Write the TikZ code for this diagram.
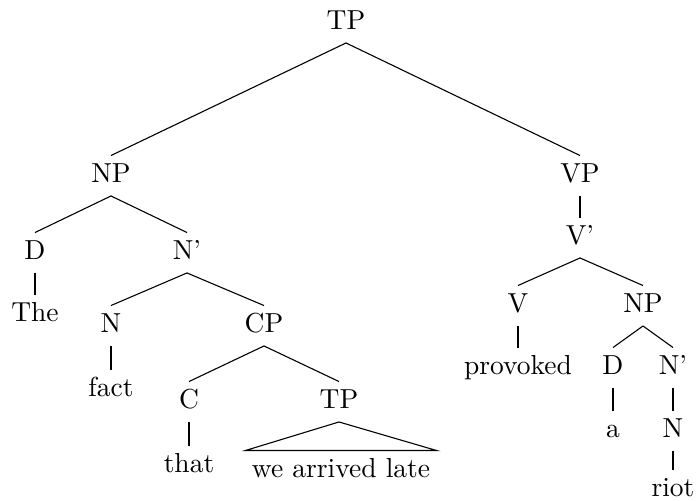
\documentclass[tikz,border=0pt]{standalone}
\usepackage{tikz}

\begin{document}
\begin{tikzpicture}[x=0.3636pt,y=-0.3636pt]
\tikzstyle{every node}=[inner sep=0pt, inner ysep=2.7pt, text height=6.9pt, text depth=2pt, anchor=base]
\useasboundingbox (0,0) rectangle (699,501);
\draw (346,29.5) node (tp) {TP};
\draw (111,182.5) node (np) {NP};
\draw (580,182.5) node (vp) {VP};
\draw (35,259.5) node (d) {D};
\draw (187,259.5) node (nbar) {N'};
\draw (35,321.5) node (the) {The};
\draw (111,332.5) node (n) {N};
\draw (264,332.5) node (cp) {CP};
\draw (111,396.5) node (fact) {fact};
\draw (189,408.5) node (c) {C};
\draw (339,408.5) node (tpb) {TP};
\draw (189,472.5) node (that) {that};
\draw (341,477.5) node (roof) [inner xsep=2.2pt] {we arrived late};
\draw (580,244.5) node (vbar) {V'};
\draw (518,312.5) node (v) {V};
\draw (643,312.5) node (npb) {NP};
\draw (518,375) node (prov) {provoked};
\draw (613,374.5) node (db) {D};
\draw (673,374.5) node (nbarb) {N'};
\draw (613,437.5) node (a) {a};
\draw (673,437.5) node (nb) {N};
\draw (673,496.5) node (riot) {riot};
\draw (tp.south) -- (np.north);
\draw (tp.south) -- (vp.north);
\draw (np.south) -- (d.north);
\draw (np.south) -- (nbar.north);
\draw (d.south) -- (the.north);
\draw (nbar.south) -- (n.north);
\draw (nbar.south) -- (cp.north);
\draw (n.south) -- (fact.north);
\draw (cp.south) -- (c.north);
\draw (cp.south) -- (tpb.north);
\draw (c.south) -- (that.north);
\draw (tpb.south) -- (roof.north west) -- (roof.north east) -- cycle;
\draw (vp.south) -- (vbar.north);
\draw (vbar.south) -- (v.north);
\draw (vbar.south) -- (npb.north);
\draw (v.south) -- (prov.north);
\draw (npb.south) -- (db.north);
\draw (npb.south) -- (nbarb.north);
\draw (db.south) -- (a.north);
\draw (nbarb.south) -- (nb.north);
\draw (nb.south) -- (riot.north);
\end{tikzpicture}
\end{document}
